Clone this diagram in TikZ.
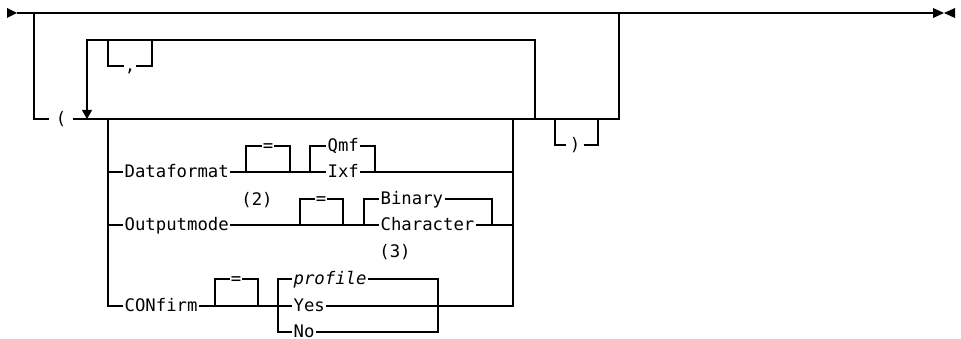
\documentclass[tikz,border=0pt]{standalone}
\usepackage{fontspec}
\setmonofont{DejaVu Sans Mono}
\usetikzlibrary{arrows.meta, positioning}
\tikzset{
  kw/.style={anchor=west, inner xsep=1pt, inner ysep=0pt, text height=11.8pt, text depth=0pt,
    font=\ttfamily\fontsize{17.3}{20}\selectfont},
  sym/.style={kw, anchor=center, inner xsep=0.5pt},
  paren/.style={sym, inner xsep=#1},
  paren/.default=3pt,
  note/.style={inner sep=0pt, font=\ttfamily\fontsize{17.3}{20}\selectfont}
}

\begin{document}
\begin{tikzpicture}[x=1pt, y=-1pt, line width=1.2pt, >={Triangle[length=9pt, width=10pt]}]
  \useasboundingbox (0,0) rectangle (961,339);
  \fill (7,8) -- (17,13) -- (7,18) -- cycle;
  \draw (17,13) -- (933,13);
  \fill (933,8) -- (944,13) -- (933,18) -- cycle;
  \fill (955,8) -- (944,13) -- (955,18) -- cycle;

  \node[paren=5.8pt] (lpar) at (61,119) {(};
  \draw (34,13) -- (34,119) -- (lpar.west);
  \draw (lpar.east) -- (619,119) -- (619,13);
  \node[paren=2.8pt] (rpar) at (575,145) {)};
  \draw (555,119) -- (555,145) -- (rpar.west); \draw (rpar.east) -- (598,145) -- (598,119);

  \draw[->] (535,119) -- (535,40) -- (87,40) -- (87,119);
  \node[sym, inner xsep=0pt] (sep) at (130,66) {,};
  \draw (108,40) -- (108,66) -- (sep.west); \draw (sep.east) -- (152,66) -- (152,40);

  \node[kw] (dfmt) at (123,172) {Dataformat};
  \draw (108,172) -- (dfmt.west); \draw (dfmt.east) -- (310,172);
  \node[sym] (dfeq) at (268,146) {=};
  \draw (246,172) -- (246,146) -- (dfeq.west); \draw (dfeq.east) -- (290,146) -- (290,172);
  \node[kw] (qmf) at (326,146) {Qmf};
  \node[kw] (ixf) at (326,172) {Ixf};
  \draw (310,172) -- (310,146) -- (qmf.west); \draw (qmf.east) -- (375,146) -- (375,172);
  \draw (310,172) -- (ixf.west); \draw (ixf.east) -- (513,172);
  \node[note] (note2) at (257,200) {(2)};

  \node[kw] (omode) at (123,225) {Outputmode};
  \draw (108,225) -- (omode.west); \draw (omode.east) -- (364,225);
  \node[sym] (omeq) at (321,199) {=};
  \draw (300,225) -- (300,199) -- (omeq.west); \draw (omeq.east) -- (343,199) -- (343,225);
  \node[kw] (binary) at (379,199) {Binary};
  \node[kw] (chars) at (379,225) {Character};
  \draw (364,225) -- (364,199) -- (binary.west); \draw (binary.east) -- (492,199) -- (492,225);
  \draw (364,225) -- (chars.west); \draw (chars.east) -- (513,225);
  \node[note] (note3) at (395,252) {(3)};

  \node[kw] (cfirm) at (123,306) {CONfirm};
  \draw (108,119) -- (108,306) -- (cfirm.west); \draw (cfirm.east) -- (278,306);
  \node[sym] (cfeq) at (236,279) {=};
  \draw (215,306) -- (215,279) -- (cfeq.west); \draw (cfeq.east) -- (258,279) -- (258,306);
  \node[kw, font=\ttfamily\itshape\fontsize{17.3}{20}\selectfont] (prof) at (292,279) {profile};
  \node[kw] (yes) at (292,306) {Yes};
  \node[kw] (no) at (292,332) {No};
  \draw (prof.west) -- (278,279) -- (278,332) -- (no.west);
  \draw (prof.east) -- (438,279) -- (438,332) -- (no.east);
  \draw (278,306) -- (yes.west); \draw (yes.east) -- (513,306) -- (513,119);
\end{tikzpicture}
\end{document}
